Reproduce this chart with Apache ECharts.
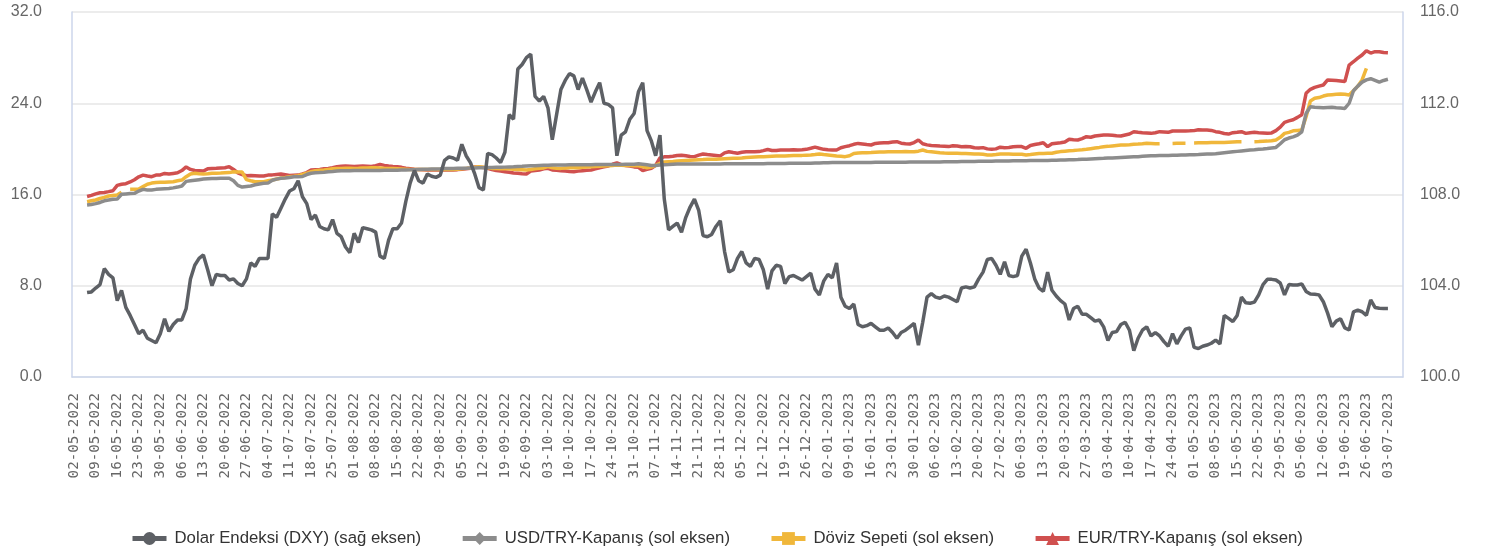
<!DOCTYPE html>
<html><head><meta charset="utf-8">
<script src="https://cdn.jsdelivr.net/npm/echarts@6/dist/echarts.min.js"></script>
<style>html,body{margin:0;padding:0;background:#fff}#c{width:1497px;height:554px}</style>
</head><body><div id="c"></div>
<script>
// Business-day categories from 02-05-2022 to 06-07-2023 (weekly tick labels every 5th day)
var startDate = '2022-05-02';
var endDate = '2023-07-06';
var legendNames = ['Dolar Endeksi (DXY) (sağ eksen)', 'USD/TRY-Kapanış (sol eksen)', 'Döviz Sepeti (sol eksen)', 'EUR/TRY-Kapanış (sol eksen)'];

var dxy = [
null,null,null,103.7,103.73,
103.9,104.05,104.75,104.5,104.35,
103.35,103.8,103.05,102.7,102.3,
101.9,102.05,101.7,101.6,101.5,
101.9,102.55,102.0,102.3,102.5,
102.5,103.0,104.3,104.9,105.2,
105.35,104.7,104.0,104.5,104.45,
104.45,104.25,104.3,104.1,104.0,
104.3,105.0,104.85,105.2,105.2,
105.2,107.15,107.0,107.4,107.8,
108.15,108.25,108.6,107.9,107.6,
106.9,107.1,106.6,106.5,106.45,
106.9,106.3,106.15,105.7,105.45,
106.3,105.9,106.55,106.5,106.45,
106.35,105.3,105.2,106.0,106.5,
106.5,106.75,107.7,108.5,109.05,
108.6,108.5,108.9,108.8,108.75,
108.85,109.5,109.65,109.6,109.5,
110.2,109.7,109.4,108.9,108.3,
108.2,109.8,109.75,109.6,109.4,
109.85,111.5,111.3,113.5,113.7,
114.0,114.15,112.3,112.1,112.3,
111.8,110.4,111.5,112.6,113.0,
113.3,113.2,112.6,113.1,112.6,
112.05,112.5,112.9,112.0,111.95,
111.8,109.7,110.6,110.75,111.3,
111.55,112.5,112.9,110.8,110.35,
109.7,110.6,107.8,106.45,106.6,
106.75,106.35,107.0,107.45,107.8,
107.3,106.2,106.15,106.25,106.6,
106.85,105.5,104.6,104.7,105.2,
105.5,105.0,104.85,105.2,105.15,
104.7,103.85,104.65,104.9,104.85,
104.1,104.4,104.45,104.35,104.25,
104.4,104.55,103.85,103.6,104.2,
104.5,104.35,105.0,103.5,103.1,
103.0,103.2,102.3,102.2,102.25,
102.35,102.2,102.05,102.05,102.15,
101.95,101.7,101.95,102.05,102.2,
102.35,101.4,102.4,103.5,103.65,
103.5,103.45,103.55,103.5,103.4,
103.3,103.9,103.95,103.9,103.95,
104.3,104.6,105.15,105.2,104.9,
104.5,105.05,104.45,104.4,104.45,
105.3,105.6,105.0,104.3,103.9,
103.75,104.6,103.8,103.55,103.35,
103.2,102.5,103.0,103.1,102.75,
102.75,102.6,102.45,102.5,102.2,
101.6,101.95,101.99,102.3,102.4,
102.05,101.15,101.7,102.05,102.2,
101.8,101.95,101.8,101.55,101.35,
101.9,101.45,101.8,102.1,102.15,
101.3,101.25,101.35,101.4,101.48,
101.62,101.45,102.7,102.57,102.43,
102.7,103.5,103.25,103.23,103.28,
103.6,104.05,104.28,104.28,104.25,
104.12,103.6,104.05,104.03,104.03,
104.08,103.75,103.64,103.63,103.6,
103.3,102.8,102.2,102.45,102.55,
102.15,102.06,102.85,102.93,102.86,
102.7,103.38,103.05,103.01,103.0,
103.0,null,null,null
];

var usdTry = [
null,null,null,15.08,15.12,
15.2,15.3,15.45,15.52,15.58,
15.6,16.02,16.05,16.08,16.1,
16.3,16.45,16.4,16.39,16.45,
16.48,16.5,16.52,16.58,16.65,
16.74,17.15,17.2,17.25,17.3,
17.35,17.38,17.4,17.41,17.42,
17.42,17.42,17.2,16.8,16.65,
16.7,16.75,16.85,16.92,16.98,
17.0,17.25,17.35,17.42,17.45,
17.5,17.55,17.56,17.58,17.75,
17.86,17.9,17.92,17.95,18.0,
18.02,18.05,18.08,18.09,18.09,
18.1,18.1,18.1,18.11,18.1,
18.1,18.11,18.12,18.12,18.12,
18.13,18.14,18.15,18.16,18.18,
18.2,18.21,18.22,18.23,18.24,
18.25,18.27,18.28,18.29,18.3,
18.3,18.31,18.32,18.33,18.34,
18.35,18.36,18.37,18.38,18.39,
18.4,18.42,18.43,18.45,18.47,
18.5,18.52,18.53,18.55,18.56,
18.57,18.58,18.58,18.59,18.59,
18.6,18.6,18.6,18.61,18.61,
18.61,18.62,18.62,18.63,18.63,
18.63,18.64,18.64,18.65,18.65,
18.66,18.7,18.65,18.6,18.55,
18.55,18.58,18.6,18.62,18.65,
18.67,18.67,18.67,18.68,18.68,
18.68,18.68,18.68,18.68,18.68,
18.68,18.69,18.69,18.69,18.7,
18.7,18.7,18.7,18.7,18.7,
18.7,18.71,18.71,18.72,18.72,
18.72,18.73,18.73,18.74,18.74,
18.75,18.75,18.76,18.77,18.78,
18.79,18.8,18.8,18.8,18.8,
18.8,18.8,18.81,18.81,18.81,
18.81,18.82,18.82,18.82,18.82,
18.82,18.83,18.83,18.83,18.84,
18.84,18.84,18.85,18.85,18.85,
18.86,18.86,18.87,18.87,18.88,
18.88,18.89,18.89,18.9,18.9,
18.91,18.91,18.92,18.92,18.93,
18.93,18.94,18.94,18.95,18.95,
18.96,18.96,18.97,18.97,18.98,
18.98,18.99,19.0,19.01,19.02,
19.03,19.04,19.05,19.06,19.08,
19.1,19.12,19.14,19.16,19.17,
19.19,19.2,19.22,19.24,19.26,
19.28,19.3,19.32,19.35,19.37,
19.39,19.4,19.41,19.42,19.43,
19.44,19.45,19.46,19.47,19.48,
19.49,19.5,19.52,19.54,19.56,
19.58,19.62,19.66,19.7,19.74,
19.78,19.82,19.86,19.9,19.92,
19.96,19.99,20.03,20.08,20.13,
20.45,20.8,20.95,21.05,21.2,
21.5,23.1,23.7,23.65,23.63,
23.6,23.62,23.64,23.6,23.58,
23.55,24.0,25.1,25.5,25.85,
26.05,26.15,26.0,25.85,26.0,
26.1,null,null,null
];

var basket = [
null,null,null,15.37,15.45,
15.52,15.65,15.75,15.87,15.92,
15.96,16.2,null,16.45,16.46,
16.48,16.69,16.9,17.0,17.05,
17.07,17.08,17.1,17.12,17.2,
17.27,17.56,17.8,17.86,17.82,
17.8,17.82,17.86,17.87,17.88,
17.9,17.92,18.0,17.98,17.97,
17.3,17.2,17.12,17.12,17.12,
17.2,17.27,17.36,17.45,17.5,
17.56,17.6,17.65,17.75,17.86,
18.0,18.09,18.12,18.15,18.2,
18.25,18.29,18.29,18.3,18.3,
18.29,18.3,18.32,18.33,18.35,
18.35,18.33,18.3,18.29,18.28,
18.26,18.24,18.22,18.2,18.2,
18.2,18.2,18.2,18.2,18.2,
18.2,18.2,18.21,18.2,18.22,
18.25,18.29,18.33,18.4,18.44,
18.4,18.35,18.29,18.27,18.25,
18.25,18.25,18.22,18.2,18.18,
18.15,18.2,18.25,18.29,18.33,
18.44,18.35,18.3,18.29,18.33,
18.35,18.36,18.35,18.38,18.4,
18.44,18.46,18.48,18.5,18.52,
18.55,18.58,18.57,18.55,18.54,
18.53,18.52,18.44,18.35,18.4,
18.55,18.73,18.85,18.88,18.9,
18.94,18.96,18.98,19.0,19.02,
19.05,19.06,19.08,19.08,19.1,
19.12,19.14,19.16,19.17,19.18,
19.2,19.24,19.26,19.28,19.3,
19.32,19.34,19.36,19.37,19.37,
19.38,19.4,19.42,19.43,19.43,
19.45,19.46,19.5,19.55,19.5,
19.46,19.42,19.38,19.35,19.32,
19.4,19.6,19.63,19.65,19.67,
19.68,19.7,19.72,19.73,19.74,
19.75,19.75,19.75,19.76,19.75,
19.75,19.8,19.9,19.78,19.74,
19.7,19.66,19.63,19.62,19.61,
19.61,19.6,19.6,19.58,19.56,
19.55,19.52,19.47,19.46,19.5,
19.55,19.55,19.54,19.53,19.52,
19.52,19.47,19.5,19.55,19.6,
19.6,19.61,19.62,19.7,19.76,
19.8,19.84,19.86,19.89,19.92,
19.96,20.02,20.08,20.13,20.19,
20.22,20.26,20.3,20.34,20.35,
20.37,20.4,20.42,20.45,20.49,
20.47,20.44,20.45,null,null,
20.48,20.49,20.5,20.5,null,
20.52,20.53,20.54,20.54,20.55,
20.55,20.55,20.56,20.58,20.6,
20.62,20.62,null,null,20.63,
20.64,20.66,20.68,20.72,20.78,
21.01,21.36,21.45,21.58,21.62,
21.65,22.82,24.2,24.43,24.5,
24.63,24.72,24.75,24.78,24.81,
24.78,24.72,25.1,25.5,26.04,
27.06,null,null,null,null,
null,null,null,null
];

var eurTry = [
null,null,null,15.82,15.92,
16.05,16.15,16.18,16.25,16.33,
16.8,16.9,16.95,17.1,17.3,
17.55,17.7,17.62,17.56,17.7,
17.72,17.85,17.8,17.85,17.9,
18.1,18.42,18.2,18.1,18.08,
18.06,18.25,18.28,18.3,18.33,
18.35,18.44,18.2,17.9,17.75,
17.65,17.66,17.64,17.62,17.62,
17.7,17.72,17.76,17.8,17.74,
17.66,17.68,17.7,17.8,17.92,
18.15,18.18,18.2,18.25,18.29,
18.35,18.44,18.47,18.5,18.48,
18.46,18.48,18.5,18.48,18.45,
18.53,18.64,18.55,18.5,18.46,
18.44,18.38,18.3,18.26,18.22,
18.2,18.17,18.15,18.15,18.16,
18.14,18.15,18.16,18.15,18.18,
18.22,18.26,18.3,18.42,18.4,
18.36,18.3,18.18,18.1,18.05,
18.0,17.95,17.88,17.86,17.82,
17.8,18.05,18.1,18.15,18.25,
18.3,18.15,18.12,18.08,18.05,
18.02,18.0,18.05,18.09,18.12,
18.15,18.25,18.35,18.42,18.5,
18.65,18.78,18.62,18.55,18.5,
18.42,18.38,18.1,18.2,18.3,
18.55,19.2,19.3,19.32,19.35,
19.42,19.45,19.4,19.33,19.32,
19.45,19.55,19.5,19.46,19.42,
19.38,19.65,19.75,19.68,19.62,
19.7,19.75,19.75,19.74,19.76,
19.85,19.95,19.86,19.85,19.9,
19.9,19.9,19.92,19.9,19.92,
19.96,20.05,20.15,20.05,19.96,
19.92,19.9,19.9,20.1,20.2,
20.28,20.4,20.48,20.43,20.38,
20.34,20.48,20.52,20.54,20.54,
20.6,20.63,20.5,20.45,20.43,
20.55,20.78,20.45,20.35,20.3,
20.28,20.25,20.24,20.2,20.28,
20.25,20.19,20.2,20.19,20.1,
20.08,20.11,20.0,19.97,20.0,
20.15,20.1,20.12,20.19,20.2,
20.2,20.05,20.3,20.38,20.45,
20.54,20.2,20.45,20.5,20.54,
20.6,20.84,20.8,20.78,20.9,
21.07,21.02,21.13,21.18,21.22,
21.22,21.2,21.15,21.13,21.22,
21.3,21.5,21.45,21.42,21.4,
21.36,21.42,21.51,21.48,21.45,
21.57,21.57,21.57,21.57,21.58,
21.6,21.68,21.66,21.65,21.62,
21.51,21.45,21.35,21.3,21.42,
21.45,21.51,21.36,21.42,21.45,
21.42,21.4,21.37,21.4,21.6,
21.9,22.33,22.45,22.55,22.76,
23.0,24.87,25.22,25.39,25.5,
25.6,26.04,26.02,25.99,25.95,
25.9,27.35,27.64,27.95,28.23,
28.61,28.4,28.52,28.52,28.45,
28.43,null,null,null
];

var leftTicks = {min: 0, max: 32, interval: 8};
var rightTicks = {min: 100, max: 116, interval: 4};

function pad(n){return (n<10?'0':'')+n;}
var categories = [];
(function(){
  var d = new Date(startDate + 'T12:00:00Z');
  var e = new Date(endDate + 'T12:00:00Z');
  while (d <= e) {
    var wd = d.getUTCDay();
    if (wd !== 0 && wd !== 6) {
      categories.push(pad(d.getUTCDate()) + '-' + pad(d.getUTCMonth()+1) + '-' + d.getUTCFullYear());
    }
    d = new Date(d.getTime() + 86400000);
  }
})();

var FONT = '"Liberation Sans", Arial, sans-serif';
var MONO = '"DejaVu Sans Mono", monospace';
var chart = echarts.init(document.getElementById('c'), null, {renderer: 'canvas'});
chart.setOption({
  animation: false,
  backgroundColor: '#ffffff',
  grid: {left: 72, right: 94, top: 12, bottom: 177},
  legend: {
    data: legendNames,
    bottom: 2,
    left: 125,
    itemGap: 39,
    itemWidth: 34,
    itemHeight: 16,
    lineStyle: {width: 5},
    textStyle: {fontSize: 16.75, color: '#333333', fontFamily: FONT, padding: [0, 0, 0, 3]}
  },
  xAxis: {
    type: 'category',
    data: categories,
    boundaryGap: true,
    axisLine: {lineStyle: {color: '#ccd6eb', width: 1.5}},
    axisTick: {interval: 4, length: 15, lineStyle: {color: '#ccd6eb', width: 1.5}},
    axisLabel: {interval: 4, rotate: 90, color: '#666666', fontSize: 14.2, fontFamily: MONO, margin: 16},
    splitLine: {show: false}
  },
  yAxis: [
    {
      type: 'value', position: 'left', min: leftTicks.min, max: leftTicks.max, interval: leftTicks.interval,
      axisLine: {show: true, lineStyle: {color: '#ccd6eb', width: 1.5}},
      axisTick: {show: false},
      axisLabel: {color: '#666666', fontSize: 16, fontFamily: FONT, margin: 30, formatter: function(v){return v.toFixed(1);}},
      splitLine: {lineStyle: {color: '#e6e6e6', width: 1.5}}
    },
    {
      type: 'value', position: 'right', min: rightTicks.min, max: rightTicks.max, interval: rightTicks.interval,
      axisLine: {show: true, lineStyle: {color: '#ccd6eb', width: 1.5}},
      axisTick: {show: false},
      axisLabel: {color: '#666666', fontSize: 16, fontFamily: FONT, margin: 17, formatter: function(v){return v.toFixed(1);}},
      splitLine: {show: false}
    }
  ],
  series: [
    {name: legendNames[0], type: 'line', yAxisIndex: 1, data: dxy, symbol: 'circle', showSymbol: false, z: 5,
     itemStyle: {color: '#5d6065'}, lineStyle: {color: '#5d6065', width: 3.5}},
    {name: legendNames[1], type: 'line', yAxisIndex: 0, data: usdTry, symbol: 'diamond', showSymbol: false, z: 4,
     itemStyle: {color: '#8c8c8c'}, lineStyle: {color: '#8c8c8c', width: 3.5}},
    {name: legendNames[2], type: 'line', yAxisIndex: 0, data: basket, symbol: 'rect', showSymbol: false, z: 3,
     itemStyle: {color: '#f0b73b'}, lineStyle: {color: '#f0b73b', width: 3.5}},
    {name: legendNames[3], type: 'line', yAxisIndex: 0, data: eurTry, symbol: 'triangle', showSymbol: false, z: 2,
     itemStyle: {color: '#d0504f'}, lineStyle: {color: '#d0504f', width: 3.5}}
  ]
});
</script>
</body></html>
